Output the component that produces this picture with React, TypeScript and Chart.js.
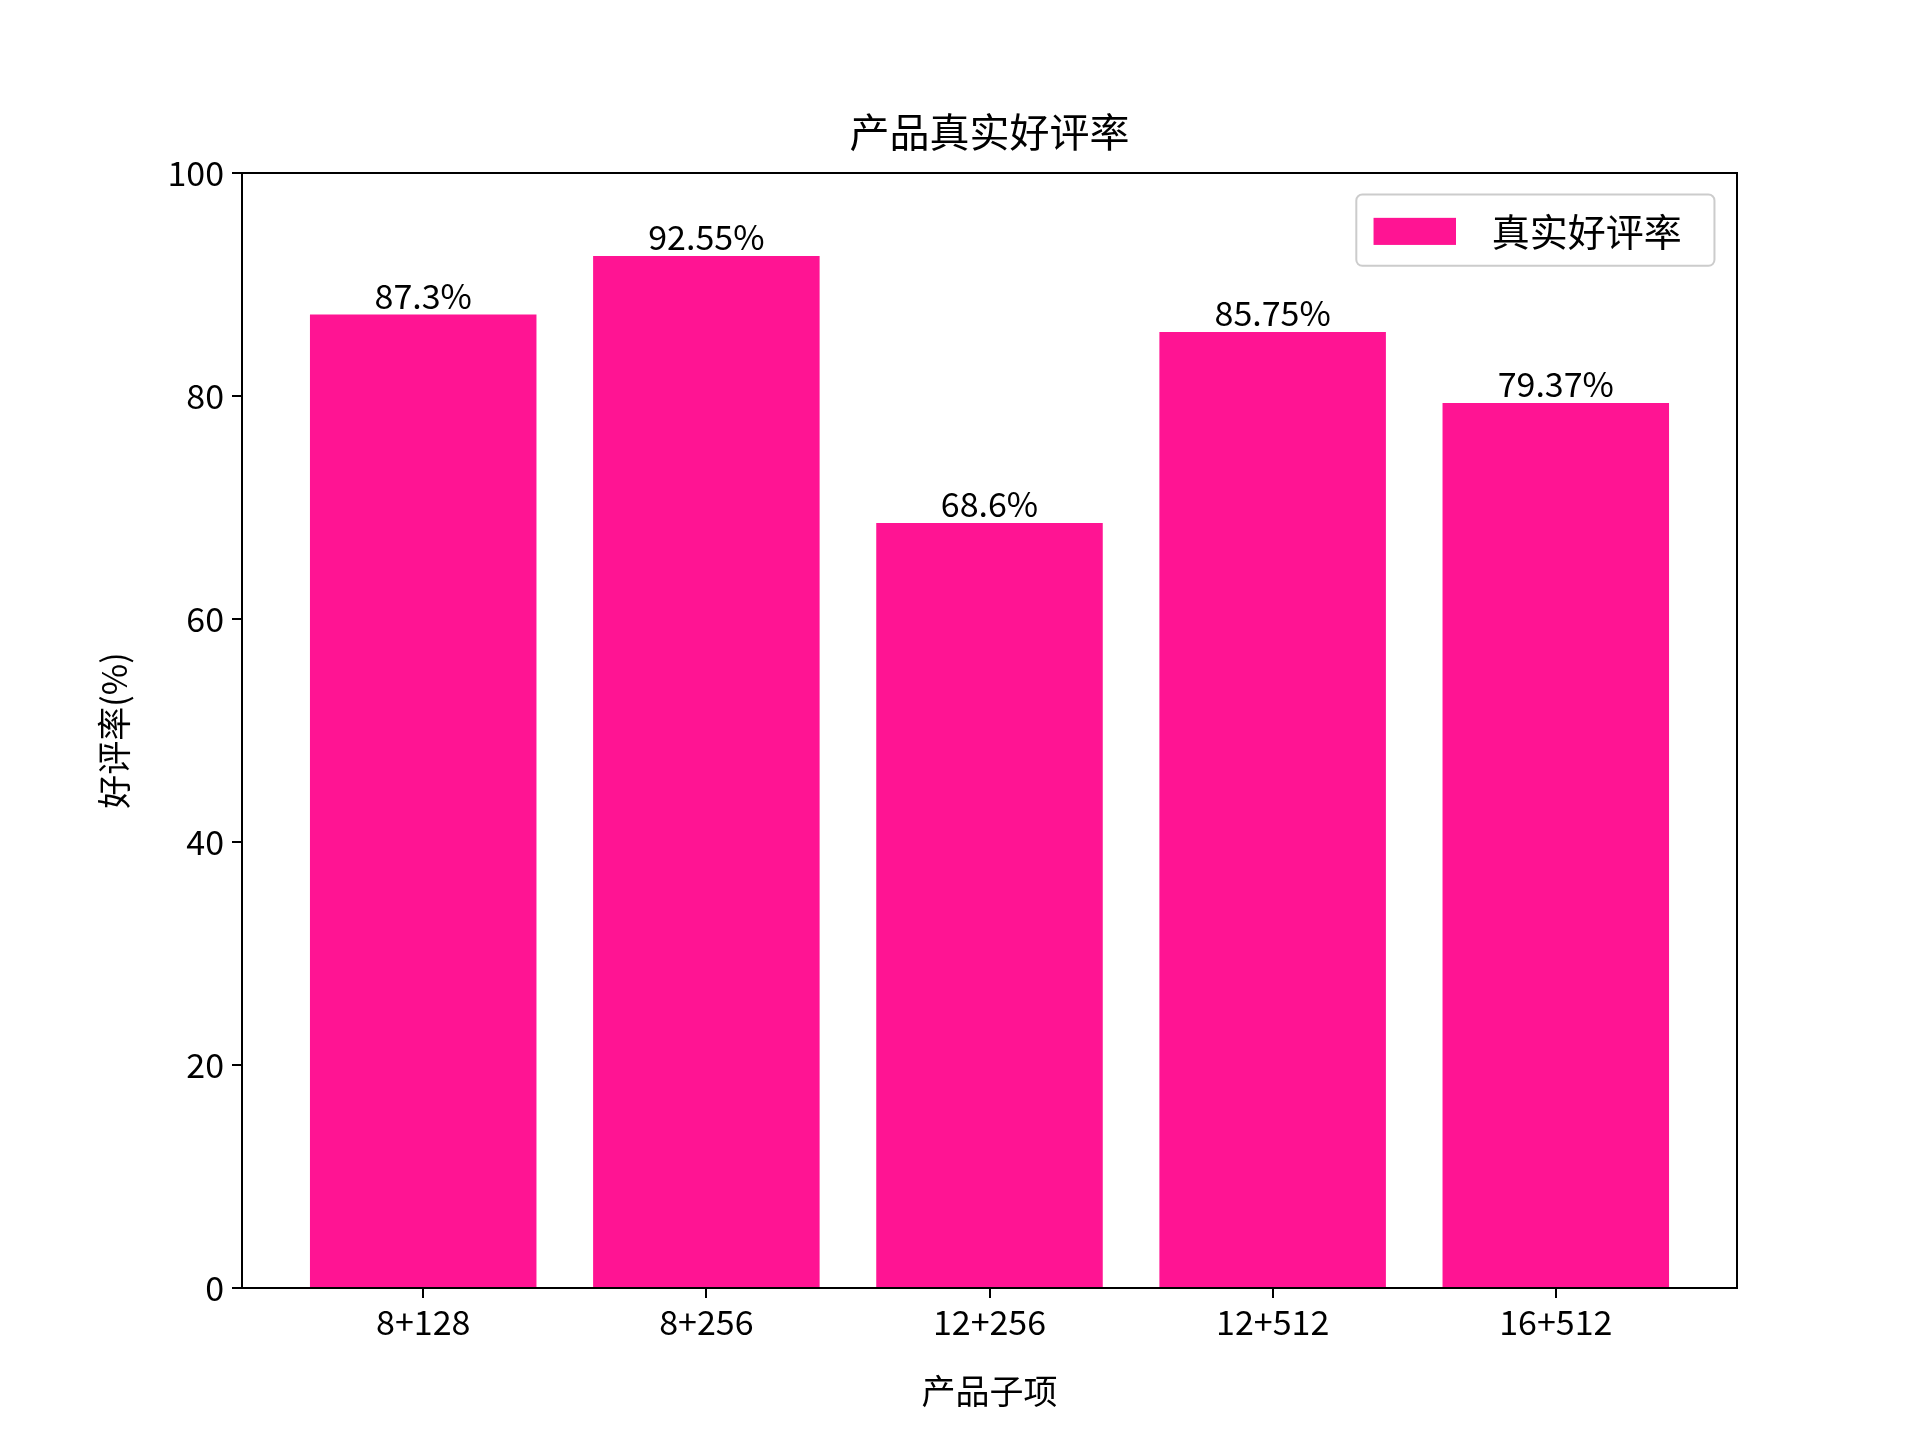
import React, { useEffect, useRef } from "react";
import { Chart, registerables } from "chart.js";
Chart.register(...registerables);

const categories = ["8+128", "8+256", "12+256", "12+512", "16+512"];
const values = [87.3, 92.55, 68.6, 85.75, 79.37];
const valueLabels = ["87.3%", "92.55%", "68.6%", "85.75%", "79.37%"];
const yTicks = [0, 20, 40, 60, 80, 100];

const W = 1920, H = 1440;
const L = 242, R = 1737, T = 173, B = 1288;
const F = "'Noto Sans CJK SC', 'Noto Sans', sans-serif";
const S = 1920 / 1560;

export default function App() {
  const ref = useRef<HTMLCanvasElement>(null);
  useEffect(() => {
    document.body.style.margin = "0";
    const deco = {
      id: "deco",
      afterDraw(c: any) {
        const ctx = c.ctx;
        const x = c.scales.x, y = c.scales.y;
        ctx.save();
        ctx.strokeStyle = "#000";
        ctx.lineWidth = 2;
        ctx.strokeRect(c.chartArea.left, c.chartArea.top, c.chartArea.right - c.chartArea.left, c.chartArea.bottom - c.chartArea.top);
        ctx.fillStyle = "#000";
        ctx.textAlign = "center";
        ctx.textBaseline = "alphabetic";
        ctx.font = `40px ${F}`;
        ctx.fillText("产品真实好评率", (L + R) / 2, T - 26);
        ctx.font = `34px ${F}`;
        values.forEach((v, i) => {
          ctx.fillText(valueLabels[i], x.getPixelForValue(i), y.getPixelForValue(v) - 6);
        });
        ctx.textBaseline = "middle";
        ctx.fillText("产品子项", (L + R) / 2, 1130 * S);
        ctx.save();
        ctx.translate(93 * S, (T + B) / 2);
        ctx.rotate(-Math.PI / 2);
        ctx.fillText("好评率(%)", 0, 0);
        ctx.restore();
        const lx = 1102 * S, ly = 158 * S, lw = 291 * S, lh = 58 * S;
        ctx.fillStyle = "rgba(255,255,255,0.8)";
        ctx.strokeStyle = "#ccc";
        ctx.lineWidth = 2;
        ctx.beginPath();
        (ctx as any).roundRect(lx, ly, lw, lh, 6);
        ctx.fill();
        ctx.stroke();
        ctx.fillStyle = "#ff1493";
        ctx.fillRect(1116 * S, 177 * S, 67 * S, 22 * S);
        ctx.fillStyle = "#000";
        ctx.textAlign = "left";
        ctx.font = `38px ${F}`;
        ctx.fillText("真实好评率", 1212 * S, 188 * S);
        ctx.restore();
      },
    };
    const chart = new Chart(ref.current!, {
      type: "bar",
      data: {
        datasets: [{
          label: "真实好评率",
          data: values.map((v, i) => ({ x: i, y: v })),
          backgroundColor: "#ff1493",
          categoryPercentage: 1,
          barPercentage: 0.8,
        }],
      },
      options: {
        animation: false,
        responsive: false,
        layout: { padding: { top: T, right: W - R, left: 0, bottom: 0 } },
        plugins: { legend: { display: false }, title: { display: false }, tooltip: { enabled: false } },
        scales: {
          x: {
            type: "linear", min: -0.64, max: 4.64, offset: false,
            afterBuildTicks: (s: any) => { s.ticks = categories.map((_, i) => ({ value: i })); },
            afterFit: (s: any) => { s.height = H - B; },
            ticks: { callback: (v: any) => categories[v] ?? "", color: "#000", font: { family: F, size: 34 }, padding: 4 },
            grid: { offset: false, drawOnChartArea: false, drawTicks: true, tickLength: 10, color: "#000", lineWidth: 2 },
            border: { display: false },
          },
          y: {
            min: 0, max: 100,
            afterBuildTicks: (s: any) => { s.ticks = yTicks.map((v) => ({ value: v })); },
            afterFit: (s: any) => { s.width = L; },
            ticks: { color: "#000", font: { family: F, size: 34 }, padding: 8 },
            grid: { drawOnChartArea: false, drawTicks: true, tickLength: 10, color: "#000", lineWidth: 2 },
            border: { display: false },
          },
        },
      },
      plugins: [deco],
    } as any);
    return () => chart.destroy();
  }, []);
  return <canvas ref={ref} width={W} height={H} style={{ display: "block", width: W, height: H }} />;
}
